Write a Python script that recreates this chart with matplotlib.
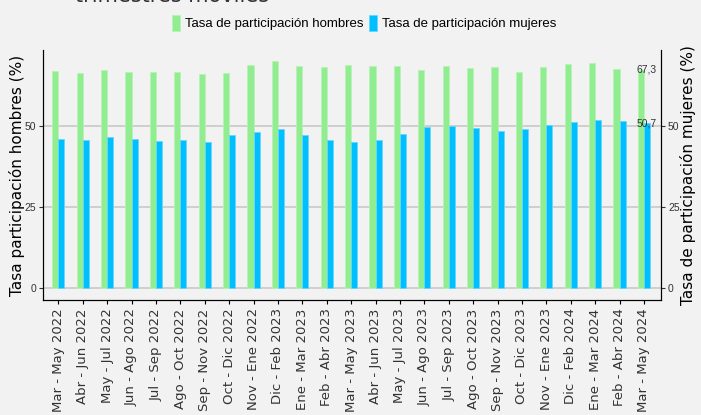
import matplotlib
matplotlib.use("Agg")
import numpy as np
import matplotlib.pyplot as plt

periodos = ["Mar - May 2022", "Abr - Jun 2022", "May - Jul 2022", "Jun - Ago 2022",
            "Jul - Sep 2022", "Ago - Oct 2022", "Sep - Nov 2022", "Oct - Dic 2022",
            "Nov - Ene 2022", "Dic - Feb 2023", "Ene - Mar 2023", "Feb - Abr 2023",
            "Mar - May 2023", "Abr - Jun 2023", "May - Jul 2023", "Jun - Ago 2023",
            "Jul - Sep 2023", "Ago - Oct 2023", "Sep - Nov 2023", "Oct - Dic 2023",
            "Nov - Ene 2023", "Dic - Feb 2024", "Ene - Mar 2024", "Feb - Abr 2024",
            "Mar - May 2024"]
hombres = [66.9, 66.3, 67.1, 66.5, 66.6, 66.4, 65.9, 66.3, 68.7, 69.8, 68.3, 68.1, 68.6,
           68.3, 68.3, 67.1, 68.5, 67.9, 68.1, 66.5, 68.0, 69.0, 69.2, 67.5, 67.3]
mujeres = [46.0, 45.7, 46.6, 45.9, 45.4, 45.5, 45.1, 47.2, 48.0, 48.9, 47.1, 45.7, 45.1,
           45.7, 47.5, 49.6, 50.0, 49.2, 48.5, 49.1, 50.1, 51.3, 51.8, 51.5, 50.7]
ticks_y = [0, 25, 50]

narrow = "Liberation Sans"
bg = "#f2f2f2"

fig = plt.figure(figsize=(7.01, 4.15), dpi=100, facecolor=bg)
ax = fig.add_axes([43 / 701, 1 - 300 / 415, (661 - 43) / 701, 250 / 415])
ax.set_facecolor(bg)
ax2 = ax.twinx()

x = np.arange(len(periodos))
w = 0.25
b1 = ax.bar(x - w / 2, hombres, w, color="#90ee90", edgecolor="#b8f2b8", linewidth=0.6,
            label="Tasa de participación hombres", zorder=3)
b2 = ax2.bar(x + w / 2, mujeres, w, color="#00bfff", edgecolor="#66d6ff", linewidth=0.6,
             label="Tasa de participación mujeres", zorder=3)

ylim = (-3.6, 73.3)
for a in (ax, ax2):
    a.set_ylim(*ylim)
    a.set_yticks(ticks_y)
    a.spines["top"].set_visible(False)
    a.tick_params(axis="y", labelsize=7.5, length=3, colors="#333333", pad=2)
    for lab in a.get_yticklabels():
        lab.set_family(narrow)
ax.set_xlim(-0.63, len(periodos) - 1 + 0.7)
for t in ticks_y:
    ax.axhline(t, color="#c8c8c8", lw=1.2, zorder=1)

ax.set_xticks(x)
ax.set_xticklabels(periodos, rotation=90, fontsize=9.5, color="#333333")
ax.tick_params(axis="x", length=3, pad=3)

ax.set_ylabel("Tasa participación hombres (%)", fontsize=11)
ax2.set_ylabel("Tasa de participación mujeres (%)", fontsize=11)
ax.yaxis.set_label_coords(-0.029, 0.5)
ax2.yaxis.set_label_coords(1.031, 0.5)

ax.text(x[-1] + 0.1, hombres[-1], f"{hombres[-1]:.1f}".replace(".", ","), ha="center",
        va="center", fontsize=7.5, color="#333333", family=narrow, zorder=5)
ax2.text(x[-1] + 0.1, mujeres[-1], f"{mujeres[-1]:.1f}".replace(".", ","), ha="center",
         va="center", fontsize=7.5, color="#333333", family=narrow, zorder=5)

fig.legend(handles=[b1, b2], loc="center", bbox_to_anchor=(364 / 701, 1 - 23 / 415),
           ncol=2, frameon=False, prop={"family": narrow, "size": 9.5},
           handlelength=0.6, handleheight=1.5, handletextpad=0.4, columnspacing=0.4)

fig.text(75 / 701, 1 - 2 / 415, "trimestres móviles", fontsize=15, color="#333333",
         va="baseline", ha="left")

fig.savefig("out.png", dpi=100, facecolor=bg)
